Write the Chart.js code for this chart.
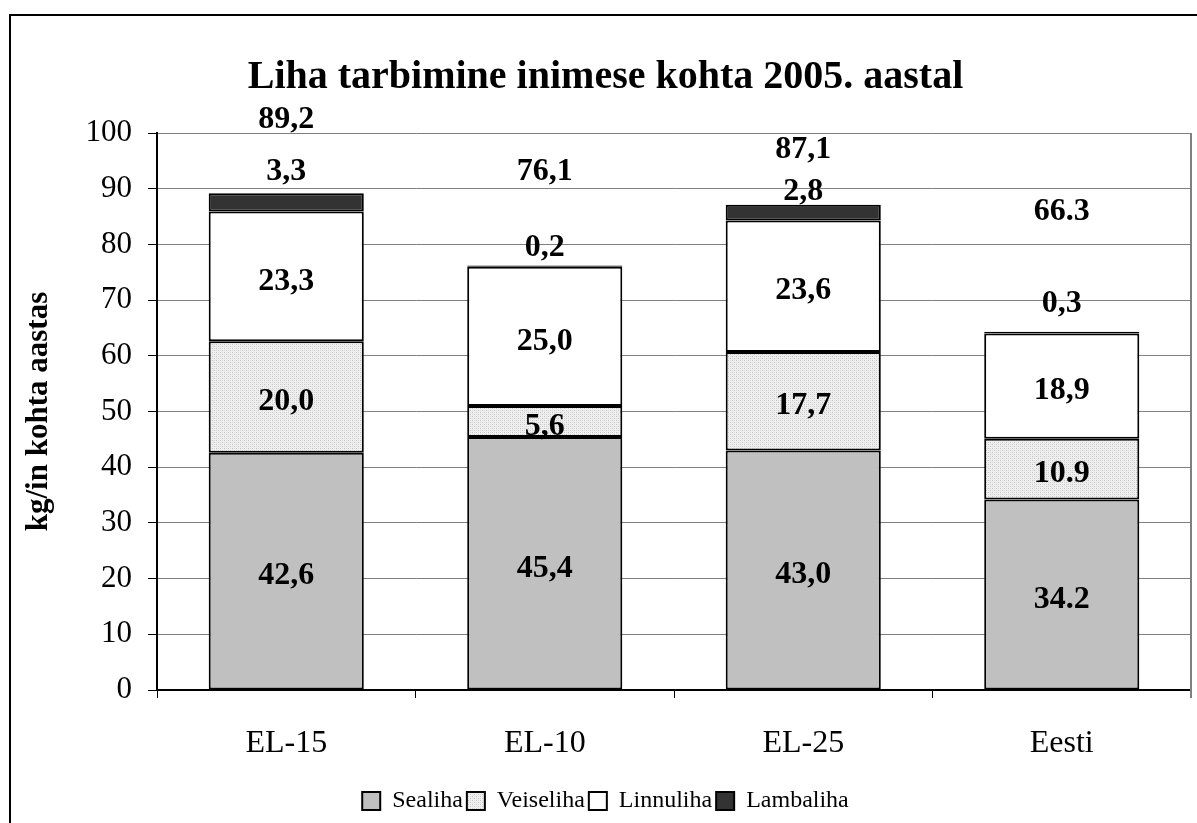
<!DOCTYPE html>
<html>
<head>
<meta charset="utf-8">
<script src="https://cdn.jsdelivr.net/npm/chart.js@4.4.0/dist/chart.umd.min.js"></script>
<style>
  body { margin: 0; background: #fff; }
  .wrapper { width: 1197px; height: 823px; }
</style>
</head>
<body>
<div class="wrapper"><canvas id="myChart" width="1197" height="823"></canvas></div>
<script>
const categories = ['EL-15', 'EL-10', 'EL-25', 'Eesti'];

const sealiha = [42.6, 45.4, 43.0, 34.2];
const veiseliha = [20.0, 5.6, 17.7, 10.9];
const linnuliha = [23.3, 25.0, 23.6, 18.9];
const lambaliha = [3.3, 0.2, 2.8, 0.3];

// label texts as printed on the chart
const sealihaLabels = ['42,6', '45,4', '43,0', '34.2'];
const veiselihaLabels = ['20,0', '5,6', '17,7', '10.9'];
const linnulihaLabels = ['23,3', '25,0', '23,6', '18,9'];
const lambalihaLabels = ['3,3', '0,2', '2,8', '0,3'];
const totalLabels = ['89,2', '76,1', '87,1', '66.3'];

const yTicks = [0, 10, 20, 30, 40, 50, 60, 70, 80, 90, 100];

const serif = '"Liberation Serif", "Times New Roman", serif';

// dotted fill for Veiseliha
const makePattern = () => {
  const c = document.createElement('canvas');
  c.width = 4;
  c.height = 4;
  const ctx = c.getContext('2d');
  ctx.fillStyle = '#efefef';
  ctx.fillRect(0, 0, 4, 4);
  ctx.fillStyle = '#c4c4c4';
  ctx.fillRect(0, 0, 1, 1);
  ctx.fillRect(2, 2, 1, 1);
  ctx.fillStyle = '#dadada';
  ctx.fillRect(2, 0, 1, 1);
  ctx.fillRect(0, 2, 1, 1);
  return document.getElementById('myChart').getContext('2d').createPattern(c, 'repeat');
};

const segmentLabels = [sealihaLabels, veiselihaLabels, linnulihaLabels];
// how far above the bar top the small and total labels sit (px)
const smallLift = [21, 18, 13, 28];
const totalLift = [73, 94, 55, 120];

const framePlugin = {
  id: 'frame',
  beforeDraw(chart) {
    const ctx = chart.ctx;
    ctx.save();
    ctx.fillStyle = '#fff';
    ctx.fillRect(0, 0, chart.width, chart.height);
    ctx.strokeStyle = '#000';
    ctx.lineWidth = 2;
    ctx.strokeRect(10, 15, 1300, 900);
    ctx.restore();
  },
  afterDraw(chart) {
    const a = chart.chartArea;
    const ctx = chart.ctx;
    ctx.save();
    ctx.strokeStyle = '#808080';
    ctx.lineWidth = 2;
    ctx.beginPath();
    ctx.moveTo(a.right, a.top);
    ctx.lineTo(a.right, a.bottom + 8);
    ctx.stroke();
    ctx.restore();
  }
};

const labelPlugin = {
  id: 'barLabels',
  afterDatasetsDraw(chart) {
    const ctx = chart.ctx;
    ctx.save();
    ctx.font = 'bold 32px ' + serif;
    ctx.fillStyle = '#000';
    ctx.textAlign = 'center';
    ctx.textBaseline = 'middle';
    segmentLabels.forEach((labels, d) => {
      chart.getDatasetMeta(d).data.forEach((bar, i) => {
        ctx.fillText(labels[i], bar.x, (bar.y + bar.base) / 2 + 5);
      });
    });
    chart.getDatasetMeta(3).data.forEach((bar, i) => {
      ctx.fillText(lambalihaLabels[i], bar.x, bar.y - smallLift[i]);
      ctx.fillText(totalLabels[i], bar.x, bar.y - totalLift[i]);
    });
    ctx.restore();
  }
};

const common = { borderColor: '#000', borderWidth: 2, borderSkipped: false, barPercentage: 0.6, categoryPercentage: 1 };

const data = {
  labels: categories,
  datasets: [
    { label: 'Sealiha', data: sealiha, backgroundColor: '#c0c0c0', ...common },
    { label: 'Veiseliha', data: veiseliha, backgroundColor: makePattern(), ...common },
    { label: 'Linnuliha', data: linnuliha, backgroundColor: '#ffffff', ...common },
    { label: 'Lambaliha', data: lambaliha, backgroundColor: '#333333', ...common }
  ]
};

const config = {
  type: 'bar',
  data,
  plugins: [framePlugin, labelPlugin],
  options: {
    responsive: false,
    animation: false,
    layout: { padding: { left: 20, right: 6, top: 0, bottom: 0 } },
    plugins: {
      title: {
        display: true,
        text: 'Liha tarbimine inimese kohta 2005. aastal',
        color: '#000',
        font: { family: serif, size: 40, weight: 'bold' },
        padding: { top: 54, bottom: 31 }
      },
      legend: {
        position: 'bottom',
        labels: {
          color: '#000',
          font: { family: serif, size: 24 },
          boxWidth: 18,
          boxHeight: 18,
          padding: 4
        }
      },
      tooltip: { enabled: false }
    },
    scales: {
      x: {
        stacked: true,
        offset: true,
        grid: { offset: true, drawOnChartArea: false, drawTicks: true, tickLength: 8, color: '#000', lineWidth: 1 },
        border: { color: '#000', width: 2 },
        ticks: { color: '#000', font: { family: serif, size: 32 }, padding: 26 },
        afterFit: s => { s.height = 95; }
      },
      y: {
        stacked: true,
        min: 0,
        max: 100,
        afterBuildTicks: s => { s.ticks = yTicks.map(v => ({ value: v })); },
        grid: { color: '#808080', lineWidth: 1, tickLength: 9, tickColor: '#000' },
        border: { color: '#000', width: 2 },
        ticks: { color: '#000', font: { family: serif, size: 31 }, padding: 16 },
        title: {
          display: true,
          text: 'kg/in kohta aastas',
          color: '#000',
          font: { family: serif, size: 31, weight: 'bold' },
          padding: { top: 0, bottom: 0 }
        },
        afterFit: s => { s.width = 137; }
      }
    }
  }
};

const myChart = new Chart(document.getElementById('myChart'), config);
</script>
</body>
</html>
